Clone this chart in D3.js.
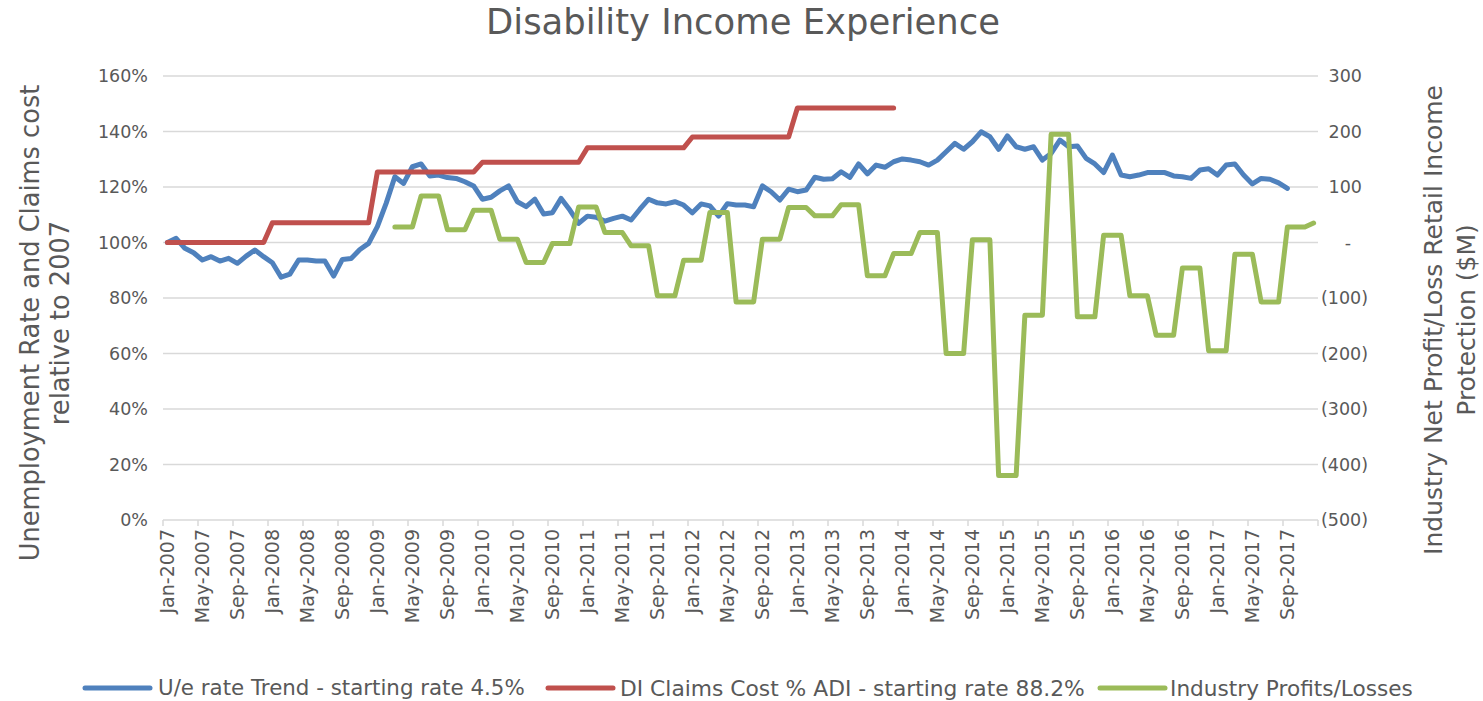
<!DOCTYPE html>
<html>
<head>
<meta charset="utf-8">
<script src="https://cdn.jsdelivr.net/npm/d3@7"></script>
<style>
  body { margin: 0; background: #fff; }
  text { font-family: "DejaVu Sans", sans-serif; fill: #595959; }
</style>
</head>
<body>
<svg id="chart" width="1483" height="701"></svg>
<script>
// ===== DATA =====
// one category per month, Jan-2007 .. Dec-2017
const months = d3.timeMonth.range(new Date(2007, 0, 1), new Date(2018, 0, 1));

// U/e rate trend, relative to 2007 (Jan-2007 .. Sep-2017)
const ueRate = [
  1.000, 1.015, 0.979, 0.963, 0.937, 0.949, 0.933, 0.943, 0.925, 0.951, 0.973, 0.949,
  0.927, 0.875, 0.886, 0.937, 0.937, 0.933, 0.933, 0.879, 0.939, 0.942, 0.975, 0.997,
  1.057, 1.141, 1.237, 1.213, 1.273, 1.283, 1.240, 1.243, 1.234, 1.231, 1.219, 1.204,
  1.156, 1.163, 1.186, 1.204, 1.147, 1.129, 1.156, 1.103, 1.107, 1.159, 1.117, 1.069,
  1.095, 1.091, 1.077, 1.087, 1.095, 1.081, 1.120, 1.156, 1.143, 1.139, 1.147, 1.135,
  1.107, 1.139, 1.132, 1.095, 1.140, 1.135, 1.135, 1.129, 1.204, 1.183, 1.153, 1.192,
  1.183, 1.189, 1.235, 1.228, 1.230, 1.255, 1.235, 1.283, 1.247, 1.279, 1.271, 1.291,
  1.301, 1.297, 1.291, 1.279, 1.297, 1.327, 1.357, 1.336, 1.363, 1.399, 1.381, 1.336,
  1.384, 1.345, 1.336, 1.345, 1.297, 1.321, 1.369, 1.345, 1.348, 1.303, 1.283, 1.252,
  1.315, 1.243, 1.237, 1.243, 1.252, 1.252, 1.252, 1.240, 1.237, 1.231, 1.261, 1.266,
  1.243, 1.279, 1.283, 1.243, 1.211, 1.231, 1.228, 1.215, 1.195
];

// DI claims cost % ADI, relative to 2007 (Jan-2007 .. Dec-2013)
const claimsCost = [
  1.000, 1.000, 1.000, 1.000, 1.000, 1.000, 1.000, 1.000, 1.000, 1.000, 1.000, 1.000,
  1.071, 1.071, 1.071, 1.071, 1.071, 1.071, 1.071, 1.071, 1.071, 1.071, 1.071, 1.071,
  1.254, 1.254, 1.254, 1.254, 1.254, 1.254, 1.254, 1.254, 1.254, 1.254, 1.254, 1.254,
  1.289, 1.289, 1.289, 1.289, 1.289, 1.289, 1.289, 1.289, 1.289, 1.289, 1.289, 1.289,
  1.341, 1.341, 1.341, 1.341, 1.341, 1.341, 1.341, 1.341, 1.341, 1.341, 1.341, 1.341,
  1.380, 1.380, 1.380, 1.380, 1.380, 1.380, 1.380, 1.380, 1.380, 1.380, 1.380, 1.380,
  1.485, 1.485, 1.485, 1.485, 1.485, 1.485, 1.485, 1.485, 1.485, 1.485, 1.485, 1.485
];

// Industry profits/losses, $M (Mar-2009 .. Dec-2017)
const profitsStart = new Date(2009, 2, 1);
const profits = [
  28, 28, 28, 84, 84, 84, 23, 23, 23, 58, 58, 58,
  6, 6, 6, -36, -36, -36, -2, -2, -2, 64, 64, 64,
  18, 18, 18, -6, -6, -6, -96, -96, -96, -32, -32, -32,
  54, 54, 54, -107, -107, -107, 6, 6, 6, 63, 63, 63,
  48, 48, 48, 68, 68, 68, -60, -60, -60, -20, -20, -20,
  18, 18, 18, -200, -200, -200, 5, 5, 5, -420, -420, -420,
  -131, -131, -131, 195, 195, 195, -134, -134, -134, 13, 13, 13,
  -96, -96, -96, -167, -167, -167, -46, -46, -46, -195, -195, -195,
  -21, -21, -21, -107, -107, -107, 28, 28, 28, 35
];

const leftTicks = [0, 0.2, 0.4, 0.6, 0.8, 1.0, 1.2, 1.4, 1.6];
const rightTicks = [-500, -400, -300, -200, -100, 0, 100, 200, 300];

const series = [
  { name: 'U/e rate Trend - starting rate 4.5%', color: '#4F81BD' },
  { name: 'DI Claims Cost % ADI - starting rate 88.2%', color: '#C0504D' },
  { name: 'Industry Profits/Losses', color: '#9BBB59' }
];

// ===== CHART =====
const svg = d3.select('#chart');
const plot = { left: 163, right: 1318, top: 76, bottom: 520 };

const x = d3.scaleBand().domain(d3.range(months.length)).range([plot.left, plot.right]).padding(0);
const cx = i => x(i) + x.bandwidth() / 2;
const yL = d3.scaleLinear().domain([0, 1.6]).range([plot.bottom, plot.top]);
const yR = d3.scaleLinear().domain([-500, 300]).range([plot.bottom, plot.top]);

// fit a text element to a target length by scaling its font size
function fit(sel, w) {
  const len = sel.node().getComputedTextLength();
  const size = parseFloat(sel.attr('font-size')) * w / len;
  sel.attr('font-size', size);
  return size;
}

// gridlines
svg.append('g').selectAll('line').data(leftTicks).join('line')
  .attr('x1', plot.left).attr('x2', plot.right)
  .attr('y1', d => yL(d)).attr('y2', d => yL(d))
  .attr('stroke', '#D9D9D9').attr('stroke-width', 1.5);

// x tick marks every 4 months
const tickIdx = d3.range(0, months.length + 1, 4);
svg.append('g').selectAll('line').data(tickIdx).join('line')
  .attr('x1', i => i < months.length ? x(i) : plot.right)
  .attr('x2', i => i < months.length ? x(i) : plot.right)
  .attr('y1', plot.bottom).attr('y2', plot.bottom + 6)
  .attr('stroke', '#D9D9D9').attr('stroke-width', 1.5);

// x labels
const fmtMonth = d3.timeFormat('%b-%Y');
svg.append('g').selectAll('text').data(d3.range(0, months.length, 4)).join('text')
  .attr('transform', i => `translate(${cx(i)},${plot.bottom + 9}) rotate(-90)`)
  .attr('text-anchor', 'end').attr('dy', '0.35em')
  .attr('font-size', 19)
  .text(i => fmtMonth(months[i]));

// left axis labels
svg.append('g').selectAll('text').data(leftTicks).join('text')
  .attr('x', 148).attr('y', d => yL(d)).attr('dy', '0.35em')
  .attr('text-anchor', 'end').attr('font-size', 17.5)
  .text(d3.format('.0%'));

// right axis labels (accounting style)
const fmtAcct = v => v < 0 ? `(${-v})` : v === 0 ? '-' : String(v);
svg.append('g').selectAll('text').data(rightTicks).join('text')
  .attr('x', v => v < 0 ? 1368 : v === 0 ? 1351 : 1362)
  .attr('y', v => yR(v)).attr('dy', '0.35em')
  .attr('text-anchor', 'end').attr('font-size', 17.5)
  .text(fmtAcct);

// lines
const lineL = d3.line().x((d, i) => cx(i)).y(d => yL(d));
const p0 = d3.timeMonth.count(months[0], profitsStart);
const lineR = d3.line().x((d, i) => cx(i + p0)).y(d => yR(d));

[[ueRate, lineL], [claimsCost, lineL], [profits, lineR]].forEach(([data, gen], k) => {
  svg.append('path').datum(data)
    .attr('d', gen)
    .attr('fill', 'none')
    .attr('stroke', series[k].color)
    .attr('stroke-width', 5)
    .attr('stroke-linejoin', 'round')
    .attr('stroke-linecap', 'round');
});

// title
const title = svg.append('text')
  .attr('x', 743).attr('y', 34).attr('text-anchor', 'middle')
  .attr('font-size', 32).text('Disability Income Experience');
fit(title, 514);

// axis titles, two lines each, read bottom to top
const axisTitles = [
  { lines: ['Unemployment Rate and Claims cost', 'relative to 2007'], xs: [30, 60], y: 323, w: 477 },
  { lines: ['Industry Net Profit/Loss Retail Income', 'Protection ($M)'], xs: [1433, 1466], y: 320, w: 470 }
];
axisTitles.forEach(a => {
  let size = 22;
  a.lines.forEach((t, j) => {
    const el = svg.append('text')
      .attr('transform', `translate(${a.xs[j]},${a.y}) rotate(-90)`)
      .attr('text-anchor', 'middle').attr('dy', '0.35em')
      .attr('font-size', size).text(t);
    if (j === 0) size = fit(el, a.w);
  });
});

// legend
const legendPos = [[85, 158, 367], [548, 620, 465], [1100, 1170, 243]];
series.forEach((s, k) => {
  const [lx, tx, w] = legendPos[k];
  svg.append('line')
    .attr('x1', lx).attr('x2', lx + 65).attr('y1', 688).attr('y2', 688)
    .attr('stroke', s.color).attr('stroke-width', 5).attr('stroke-linecap', 'round');
  const el = svg.append('text')
    .attr('x', tx).attr('y', 688).attr('dy', '0.35em')
    .attr('font-size', 19).text(s.name);
  fit(el, w);
});
</script>
</body>
</html>
